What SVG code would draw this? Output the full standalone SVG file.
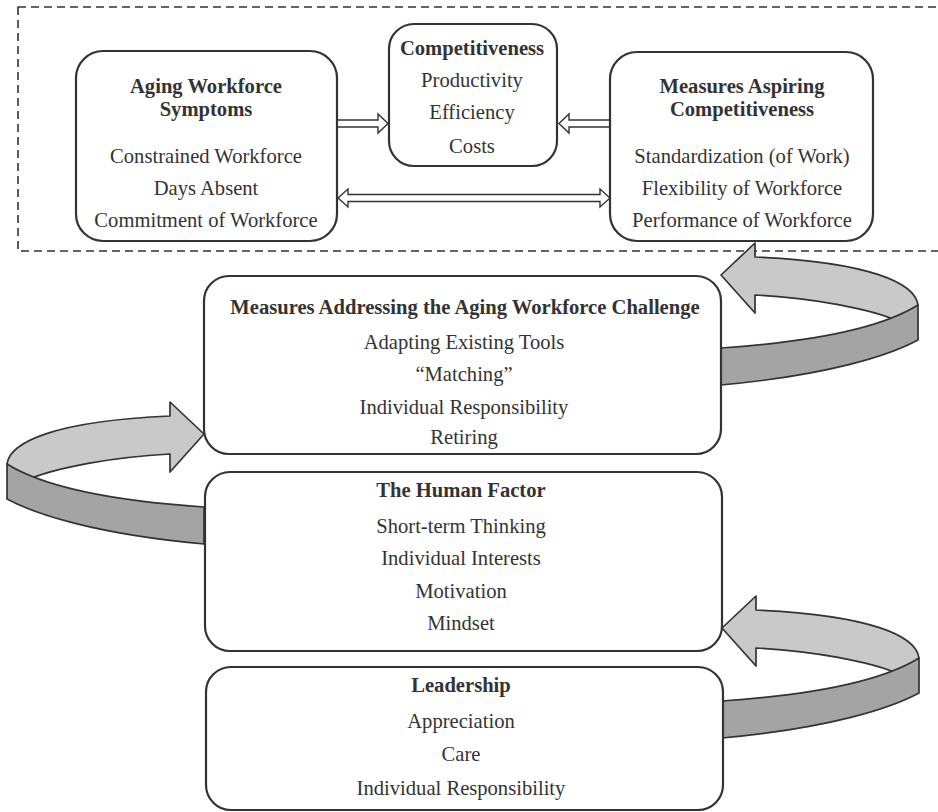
<svg xmlns="http://www.w3.org/2000/svg" xmlns:xlink="http://www.w3.org/1999/xlink" width="938" height="812" viewBox="0 0 938 812">
<style>
  .box{fill:#fff;stroke:#333;stroke-width:2.2}
  .t{font-family:"Liberation Serif","Times New Roman",serif;font-size:20.6px;fill:#333;text-anchor:middle}
  .b{font-weight:bold}
  .dash{fill:none;stroke:#333;stroke-width:1.6;stroke-dasharray:8 5}
  .light{fill:#c9c9c9;stroke:#333;stroke-width:1.7;stroke-linejoin:round}
  .dark{fill:#a4a4a4;stroke:#333;stroke-width:1.7;stroke-linejoin:round}
  .harrow{fill:#fff;stroke:#333;stroke-width:1.4;stroke-linejoin:miter}
</style>
<defs>
  <g id="ribbon">
    <path class="light" d="M918,305 C915,283 870,262 755,257 L755,243 L721,275 L755,313 L755,295 C810,298 870,308 900,322 Z"/>
    <path class="dark" d="M721,348 C780,344 870,335 918,305 L918,340 C890,355 830,375 721,385 Z"/>
  </g>
</defs>

<rect class="dash" x="18" y="7" width="930" height="244"/>

<g id="connectors">
  <use xlink:href="#ribbon" href="#ribbon"/>
  <use xlink:href="#ribbon" href="#ribbon" transform="translate(1,353)"/>
  <use xlink:href="#ribbon" href="#ribbon" transform="translate(925,159) scale(-1,1)"/>
  <path class="harrow" d="M337,120 L378,120 L378,114 L388,123.5 L378,133 L378,127 L337,127 Z"/>
  <path class="harrow" d="M610,120 L569,120 L569,114 L559,123.5 L569,133 L569,127 L610,127 Z"/>
  <path class="harrow" d="M348,194.5 L600,194.5 L600,189 L610,198 L600,207 L600,201.5 L348,201.5 L348,207 L338,198 L348,189 Z"/>
</g>

<g id="aging">
  <rect class="box" x="76" y="51" width="261" height="190" rx="27"/>
  <text class="t b" x="206" y="93">Aging Workforce</text>
  <text class="t b" x="206" y="116">Symptoms</text>
  <text class="t" x="206" y="163">Constrained Workforce</text>
  <text class="t" x="206" y="195">Days Absent</text>
  <text class="t" x="206" y="227">Commitment of Workforce</text>
</g>

<g id="competitiveness">
  <rect class="box" x="389" y="24" width="168" height="142" rx="25"/>
  <text class="t b" x="472" y="55">Competitiveness</text>
  <text class="t" x="472" y="87">Productivity</text>
  <text class="t" x="472" y="119">Efficiency</text>
  <text class="t" x="472" y="153">Costs</text>
</g>

<g id="aspiring">
  <rect class="box" x="610" y="52" width="263" height="189" rx="27"/>
  <text class="t b" x="742" y="93">Measures Aspiring</text>
  <text class="t b" x="742" y="116">Competitiveness</text>
  <text class="t" x="742" y="163">Standardization (of Work)</text>
  <text class="t" x="742" y="195">Flexibility  of Workforce</text>
  <text class="t" x="742" y="227">Performance of Workforce</text>
</g>

<g id="addressing">
  <rect class="box" x="204" y="276" width="517" height="178" rx="25"/>
  <text class="t b" x="465" y="314">Measures Addressing  the Aging Workforce Challenge</text>
  <text class="t" x="464" y="349">Adapting Existing Tools</text>
  <text class="t" x="464" y="381">“Matching”</text>
  <text class="t" x="464" y="414">Individual Responsibility</text>
  <text class="t" x="464" y="444">Retiring</text>
</g>

<g id="human">
  <rect class="box" x="205" y="472" width="517" height="179" rx="25"/>
  <text class="t b" x="461" y="497">The Human Factor</text>
  <text class="t" x="461" y="533">Short-term Thinking</text>
  <text class="t" x="461" y="565">Individual Interests</text>
  <text class="t" x="461" y="598">Motivation</text>
  <text class="t" x="461" y="630">Mindset</text>
</g>

<g id="leadership">
  <rect class="box" x="206" y="667" width="517" height="143" rx="25"/>
  <text class="t b" x="461" y="692">Leadership</text>
  <text class="t" x="461" y="728">Appreciation</text>
  <text class="t" x="461" y="761">Care</text>
  <text class="t" x="461" y="795">Individual Responsibility</text>
</g>
</svg>
